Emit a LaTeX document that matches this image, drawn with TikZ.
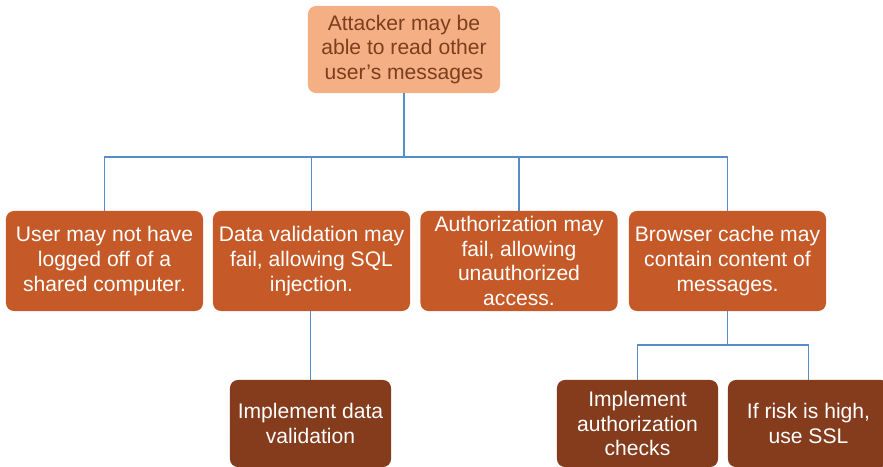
\documentclass[tikz,border=0pt]{standalone}
\usepackage{fontspec}
\setmainfont{Liberation Sans}
\usepackage{xcolor}
\usetikzlibrary{calc}

\definecolor{topfill}{RGB}{244,176,132}
\definecolor{toptext}{RGB}{125,62,30}
\definecolor{midfill}{RGB}{197,90,40}
\definecolor{lowfill}{RGB}{132,60,29}
\definecolor{linkblue}{RGB}{84,141,200}

\tikzset{
  riskbox/.style={rounded corners=0.2cm, align=center, inner sep=0pt,
    font=\fontsize{15}{17.5}\selectfont},
  topbox/.style={riskbox, fill=topfill, text=toptext,
    minimum width=4.8cm, minimum height=2.175cm},
  midbox/.style={riskbox, fill=midfill, text=white,
    minimum width=4.925cm, minimum height=2.5cm},
  lowbox/.style={riskbox, fill=lowfill, text=white,
    minimum width=4.025cm, minimum height=2.175cm},
  link/.style={draw=linkblue, line width=1.3pt}
}

\begin{document}
\begin{tikzpicture}[x=0.025cm, y=-0.025cm]
  \useasboundingbox (0,0) rectangle (883,467);

  \node[topbox] (attack) at (404,49.5) {Attacker may be\\able to read other\\user’s messages};

  \node[midbox] (logoff) at (104.5,261) {User may not have\\logged off of a\\shared computer.};
  \node[midbox] (sqlinj) at (311.5,261) {Data validation may\\fail, allowing SQL\\injection.};
  \node[midbox] (authz) at (519,261) {Authorization may\\fail, allowing\\unauthorized\\access.};
  \node[midbox] (cache) at (727.5,261) {Browser cache may\\contain content of\\messages.};

  \node[lowbox] (valid) at (310.5,423.5) {Implement data\\validation};
  \node[lowbox] (checks) at (637.5,423.5) {Implement\\authorization\\checks};
  \node[lowbox] (usessl) at (808.5,423.5) {If risk is high,\\use SSL};

  \coordinate (bus) at (404,157);
  \coordinate (subbus) at (727.5,345);

  \draw[link] (attack.south) -- (bus);
  \draw[link] (bus) -| (logoff.north);
  \draw[link] (bus) -| (sqlinj.north);
  \draw[link] (bus) -| (authz.north);
  \draw[link] (bus) -| (cache.north);

  \draw[link] (valid.north |- sqlinj.south) -- (valid.north);

  \draw[link] (cache.south) -- (subbus);
  \draw[link] (subbus) -| (checks.north);
  \draw[link] (subbus) -| (usessl.north);
\end{tikzpicture}
\end{document}
